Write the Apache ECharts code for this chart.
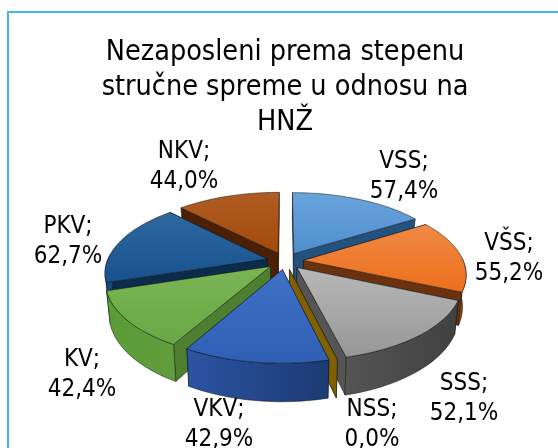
<!DOCTYPE html>
<html><head><meta charset="utf-8">
<script src="https://cdn.jsdelivr.net/npm/echarts@6/dist/echarts.min.js"></script>
<style>html,body{margin:0;padding:0;background:#fff}#c{width:558px;height:448px}</style>
</head><body><div id="c"></div>
<script>
const categories = ['VSS','VŠS','SSS','NSS','VKV','KV','PKV','NKV'];
const values = [57.4,55.2,52.1,0.0,42.9,42.4,62.7,44.0];
const valueLabels = ['57,4%','55,2%','52,1%','0,0%','42,9%','42,4%','62,7%','44,0%'];
const titleText = 'Nezaposleni prema stepenu\nstručne spreme u odnosu na\nHNŽ';

// styles: [top light, top dark, cut wall, outer wall light, outer wall dark]
const palette = [
  ['#69a4dc','#4f8fcf','#24527f','#2b5f92','#24527f'],
  ['#f08a45','#ec6f1c','#6b3210','#a04d10','#7a3a0c'],
  ['#b8b8b8','#979797','#555555','#555555','#404040'],
  ['#7f6000','#7f6000','#7f6000','#7f6000','#7f6000'],
  ['#3f71c6','#2f5fb5','#1f3f7c','#2b54a3','#1c3a72'],
  ['#7ab555','#68a843','#4e7f30','#5c9c38','#5f9e3a'],
  ['#2e689f','#17528f','#0c2c4c','#174a7a','#174a7a'],
  ['#b05c22','#a34a0b','#4b2006','#6b3008','#6b3008']
];
const labelCenters = [[404,177],[509,259],[464,399],[372,425],[219,425],[82,375],[68,242],[184,167]];

const geo = {cx:285, cy:261, R:160, b:74, p:0.174, explode:0.115, depth:31, bottomScale:0.98, font:'"DejaVu Sans Condensed","DejaVu Sans",sans-serif', labelSize:24, lineH:30, silhouette:-0.05};

function project(X, Y, down){
  const s = 1/(1 - geo.p*Y);
  let x = geo.cx + geo.R*X*s;
  let y = geo.cy + geo.b*Y*s;
  if(down){ x = geo.cx + (x-geo.cx)*geo.bottomScale; y += geo.depth*s; }
  return [x,y];
}
const total = values.reduce((a,b)=>a+b,0);
let acc = 0;
const rows = values.map((v,i)=>{ const a0 = acc/total*2*Math.PI; acc += v; const a1 = acc/total*2*Math.PI; return [i,v,a0,a1]; });
const ordered = rows.slice().sort((A,B)=>{ return -Math.cos((A[2]+A[3])/2) - -Math.cos((B[2]+B[3])/2); });

const line = {stroke:'rgba(20,20,20,0.65)', lineWidth:0.8};
function grad(c0,c1,horizontal){
  return new echarts.graphic.LinearGradient(0,0,horizontal?1:0,horizontal?0:1,[{offset:0,color:c0},{offset:1,color:c1}]);
}
function renderSlice(params, api){
  const i = api.value(0), a0 = api.value(2), a1 = api.value(3), mid=(a0+a1)/2;
  const ox = geo.explode*Math.sin(mid), oy = -geo.explode*Math.cos(mid);
  const rim = a => [ox+Math.sin(a), oy-Math.cos(a)];
  const c = palette[i];
  const n = Math.max(2,Math.ceil((a1-a0)/0.03));
  const angles = []; for(let k=0;k<=n;k++) angles.push(a0+(a1-a0)*k/n);
  const arc = (list,down) => list.map(a=>{ const r=rim(a); return project(r[0],r[1],down); });
  const apexT = project(ox,oy,false), apexB = project(ox,oy,true);
  const wall = a => { const r=rim(a); return {type:'polygon',shape:{points:[apexT,project(r[0],r[1],false),project(r[0],r[1],true),apexB]},style:Object.assign({fill:c[2]},line)}; };
  // the cut wall nearer the viewer is painted last
  const cuts = -Math.cos(a0) < -Math.cos(a1) ? [a0,a1] : [a1,a0];
  const children = [wall(cuts[0]), wall(cuts[1])];
  if(a1>a0){
    const vis = angles.filter(a=>-Math.cos(a)>=geo.silhouette);
    if(vis.length>1){
      children.push({type:'polygon',shape:{points:arc(vis,false).concat(arc(vis,true).reverse())},style:Object.assign({fill:grad(c[3],c[4],true)},line)});
    }
    children.push({type:'polygon',shape:{points:[apexT].concat(arc(angles,false))},style:Object.assign({fill:grad(c[0],c[1],false)},line)});
  }
  const lp = labelCenters[i];
  children.push({type:'text',z2:100,style:{x:lp[0],y:lp[1],text:categories[i]+';\n'+valueLabels[i],align:'center',verticalAlign:'middle',font:geo.labelSize+'px '+geo.font,fill:'#000',lineHeight:geo.lineH}});
  return {type:'group',children};
}
const chart = echarts.init(document.getElementById('c'),null,{renderer:'canvas'});
chart.setOption({
  animation:false,
  backgroundColor:'#fff',
  title:{text:titleText,left:285,top:35,padding:0,textAlign:'center',textStyle:{fontFamily:geo.font,fontSize:28.5,fontWeight:'normal',color:'#000',lineHeight:35}},
  graphic:[
    {type:'rect',silent:true,left:7,top:11,shape:{width:551,height:2},style:{fill:'#45b8ea'}},
    {type:'rect',silent:true,left:7,top:11,shape:{width:2,height:437},style:{fill:'#45b8ea'}}
  ],
  series:[{type:'custom',coordinateSystem:'none',renderItem:renderSlice,data:ordered,silent:true}]
});
</script></body></html>
